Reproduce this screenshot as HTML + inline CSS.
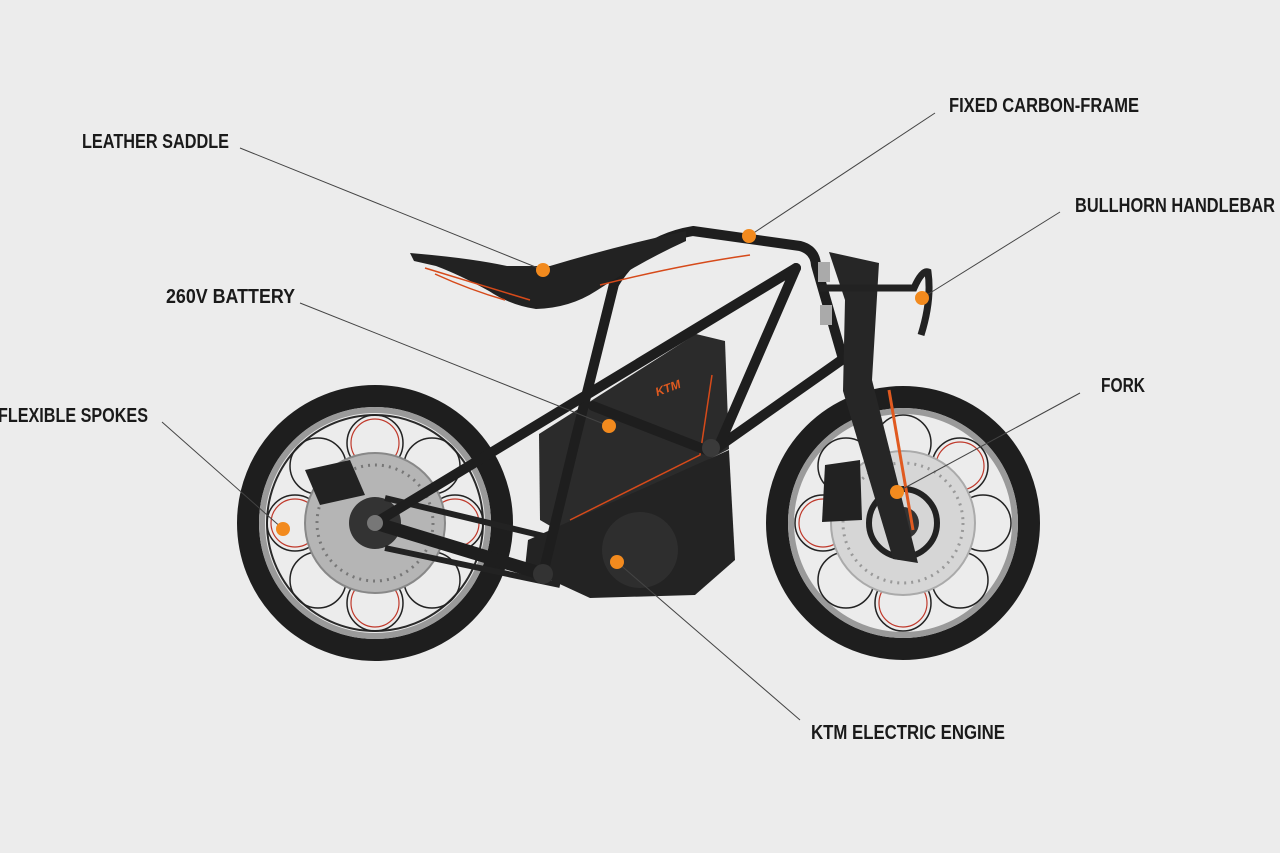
<!DOCTYPE html>
<html><head><meta charset="utf-8"><style>
html,body{margin:0;padding:0;background:#ececec;}
body{width:1280px;height:853px;overflow:hidden;position:relative;}
svg{position:absolute;left:0;top:0;}
.l{font-family:"Liberation Sans",sans-serif;font-weight:bold;font-size:20px;fill:#1a1a1a;}
</style></head><body>
<svg width="1280" height="853" viewBox="0 0 1280 853">
<rect width="1280" height="853" fill="#ececec"/>
<!-- rear wheel -->
<circle cx="375" cy="523" r="127" fill="none" stroke="#1e1e1e" stroke-width="22"/>
<circle cx="375" cy="523" r="113" fill="none" stroke="#9a9a9a" stroke-width="6"/>
<circle cx="375" cy="523" r="108" fill="none" stroke="#2a2a2a" stroke-width="2"/>
<g fill="none" stroke="#222" stroke-width="1.5">
<circle cx="375" cy="443" r="28"/><circle cx="432" cy="466" r="28"/><circle cx="455" cy="523" r="28"/><circle cx="432" cy="580" r="28"/>
<circle cx="375" cy="603" r="28"/><circle cx="318" cy="580" r="28"/><circle cx="295" cy="523" r="28"/><circle cx="318" cy="466" r="28"/>
</g>
<g fill="none" stroke="#c0392b" stroke-width="1.2">
<circle cx="375" cy="443" r="24"/><circle cx="455" cy="523" r="24"/><circle cx="375" cy="603" r="24"/><circle cx="295" cy="523" r="24"/>
</g>
<circle cx="375" cy="523" r="70" fill="#b5b5b5" stroke="#888" stroke-width="2"/>
<circle cx="375" cy="523" r="58" fill="none" stroke="#777" stroke-width="3" stroke-dasharray="2 5"/>
<path d="M305 470 L350 460 L365 495 L320 505 Z" fill="#222"/>
<circle cx="375" cy="523" r="26" fill="#333"/>
<!-- front wheel -->
<circle cx="903" cy="523" r="126" fill="none" stroke="#1e1e1e" stroke-width="22"/>
<circle cx="903" cy="523" r="112" fill="none" stroke="#9a9a9a" stroke-width="6"/>
<g fill="none" stroke="#222" stroke-width="1.5">
<circle cx="903" cy="443" r="28"/><circle cx="960" cy="466" r="28"/><circle cx="983" cy="523" r="28"/><circle cx="960" cy="580" r="28"/>
<circle cx="903" cy="603" r="28"/><circle cx="846" cy="580" r="28"/><circle cx="823" cy="523" r="28"/><circle cx="846" cy="466" r="28"/>
</g>
<g fill="none" stroke="#c0392b" stroke-width="1.2">
<circle cx="903" cy="603" r="24"/><circle cx="823" cy="523" r="24"/><circle cx="960" cy="466" r="24"/>
</g>
<circle cx="903" cy="523" r="72" fill="#d6d6d6" stroke="#aaa" stroke-width="2"/>
<circle cx="903" cy="523" r="60" fill="none" stroke="#999" stroke-width="3" stroke-dasharray="2 5"/>
<path d="M825 465 L860 460 L862 520 L822 522 Z" fill="#222"/>
<circle cx="903" cy="523" r="34" fill="none" stroke="#222" stroke-width="6"/>
<circle cx="903" cy="523" r="16" fill="#333"/>
<!-- belt -->
<path d="M385 498 L560 540 M385 548 L560 585" stroke="#222" stroke-width="6"/>
<!-- battery -->
<polygon points="539,434 696,334 725,341 729,449 564,534 540,520" fill="#2b2b2b"/>
<path d="M570 520 L700 455 L712 375" stroke="#d64a1a" stroke-width="1.5" fill="none"/>
<text x="655" y="392" font-family="Liberation Sans,sans-serif" font-weight="bold" font-style="italic" font-size="12" fill="#e05a20" transform="rotate(-20 668 388)">KTM</text>
<!-- engine -->
<path d="M528 540 L729 450 L735 560 L695 595 L590 598 L525 568 Z" fill="#232323"/>
<circle cx="640" cy="550" r="38" fill="#2e2e2e"/>
<!-- frame tubes -->
<g stroke="#1e1e1e" stroke-width="10" fill="none" stroke-linecap="round" stroke-linejoin="round">
<path d="M614 284 Q640 240 693 231 L800 246 Q815 250 816 265 L843 359 L711 452"/>
<path d="M614 284 L575 441 L543 574"/>
<path d="M375 523 L796 268"/>
<path d="M796 268 L721 441"/>
<path d="M375 523 L543 574" stroke-width="13"/>
<path d="M593 406 L711 452"/>
</g>
<circle cx="543" cy="574" r="10" fill="#333"/>
<circle cx="711" cy="448" r="9" fill="#3a3a3a"/>
<!-- seat -->
<path d="M410 253 Q470 258 507 266 L550 266 Q620 245 686 231 L686 241 Q640 262 596 291 Q570 308 536 309 Q510 305 489 291 Q460 275 436 266 L414 261 Z" fill="#222"/>
<path d="M425 268 Q480 285 530 300 M435 274 Q470 290 505 300 M600 285 Q680 265 750 255" stroke="#d64a1a" stroke-width="1.5" fill="none"/>
<!-- fork & handlebar -->
<polygon points="829,252 879,263 872,380 918,563 893,559 843,391 845,300" fill="#262626"/>
<rect x="818" y="262" width="12" height="20" fill="#aaa"/>
<rect x="820" y="305" width="12" height="20" fill="#aaa"/>
<path d="M889 390 L913 530" stroke="#e05a20" stroke-width="3"/>
<path d="M820 288 L914 288 Q922 270 928 272 Q932 300 921 335" stroke="#222" stroke-width="7" fill="none"/>
<circle cx="375" cy="523" r="8" fill="#777"/>
<!-- leader lines -->
<g stroke="#444" stroke-width="1">
<line x1="240" y1="148" x2="543" y2="270"/>
<line x1="935" y1="113" x2="749" y2="236"/>
<line x1="1060" y1="212" x2="922" y2="298"/>
<line x1="300" y1="303" x2="609" y2="426"/>
<line x1="162" y1="422" x2="283" y2="529"/>
<line x1="1080" y1="393" x2="897" y2="492"/>
<line x1="800" y1="720" x2="617" y2="562"/>
</g>
<g fill="#f28a1e">
<circle cx="543" cy="270" r="7"/><circle cx="749" cy="236" r="7"/><circle cx="922" cy="298" r="7"/>
<circle cx="609" cy="426" r="7"/><circle cx="283" cy="529" r="7"/><circle cx="897" cy="492" r="7"/><circle cx="617" cy="562" r="7"/>
</g>
<text class="l" x="82" y="148" textLength="147" lengthAdjust="spacingAndGlyphs">LEATHER SADDLE</text>
<text class="l" x="949" y="112" textLength="190" lengthAdjust="spacingAndGlyphs">FIXED CARBON-FRAME</text>
<text class="l" x="1075" y="212" textLength="200" lengthAdjust="spacingAndGlyphs">BULLHORN HANDLEBAR</text>
<text class="l" x="166" y="303" textLength="129" lengthAdjust="spacingAndGlyphs">260V BATTERY</text>
<text class="l" x="-2" y="422" textLength="150" lengthAdjust="spacingAndGlyphs">FLEXIBLE SPOKES</text>
<text class="l" x="1101" y="392" textLength="44" lengthAdjust="spacingAndGlyphs">FORK</text>
<text class="l" x="811" y="739" textLength="194" lengthAdjust="spacingAndGlyphs">KTM ELECTRIC ENGINE</text>
</svg>
</body></html>
